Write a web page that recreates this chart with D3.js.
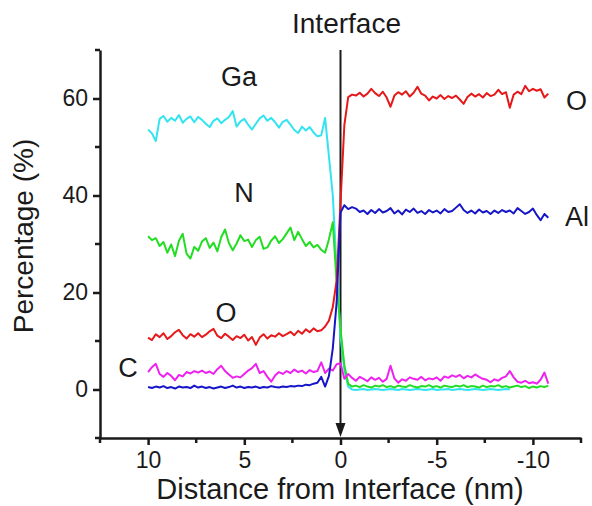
<!DOCTYPE html>
<html>
<head>
<meta charset="utf-8">
<script src="https://cdn.jsdelivr.net/npm/d3@7"></script>
<style>
body { margin: 0; background: #fff; }
text { font-family: "Liberation Sans", Arial, sans-serif; fill: #1a1a1a; }
</style>
</head>
<body>
<svg id="chart"></svg>
<script>
// distance from interface (nm), one sample every 0.2 nm
var distance = [
  10, 9.8, 9.6, 9.4, 9.2, 9, 8.8, 8.6, 8.4, 8.2,
  8, 7.8, 7.6, 7.4, 7.2, 7, 6.8, 6.6, 6.4, 6.2,
  6, 5.8, 5.6, 5.4, 5.2, 5, 4.8, 4.6, 4.4, 4.2,
  4, 3.8, 3.6, 3.4, 3.2, 3, 2.8, 2.6, 2.4, 2.2,
  2, 1.8, 1.6, 1.4, 1.2, 1, 0.8, 0.6, 0.4, 0.2,
  0, -0.2, -0.4, -0.6, -0.8, -1, -1.2, -1.4, -1.6, -1.8,
  -2, -2.2, -2.4, -2.6, -2.8, -3, -3.2, -3.4, -3.6, -3.8,
  -4, -4.2, -4.4, -4.6, -4.8, -5, -5.2, -5.4, -5.6, -5.8,
  -6, -6.2, -6.4, -6.6, -6.8, -7, -7.2, -7.4, -7.6, -7.8,
  -8, -8.2, -8.4, -8.6, -8.8, -9, -9.2, -9.4, -9.6, -9.8,
  -10, -10.2, -10.4, -10.6, -10.8
];

var ga = [
  53.6, 52.8, 51.2, 55.8, 56.4, 55.2, 56.0, 55.4, 56.6, 55.0,
  55.8, 56.3, 55.1, 56.2, 55.6, 54.8, 54.1, 55.4, 55.9, 54.9,
  55.6, 56.2, 57.4, 54.2, 55.3, 55.8, 54.6, 53.6, 54.8, 55.9,
  56.5, 55.4, 56.0, 55.1, 54.0, 55.2, 55.6, 54.6, 53.5, 52.9,
  54.2, 53.4, 54.1, 53.0, 52.2, 52.4, 56.0, 48.0, 40.0, 25.0,
  11.0, 4.0, 0.6, 0.0, -0.1, 0.0, 0.1, -0.1, 0.0, 0.1,
  0.0, -0.1, 0.0, 0.1, 0.0, -0.1, 0.1, 0.0, -0.1, 0.0,
  0.1, 0.0, -0.1, 0.0, 0.1, -0.1, 0.0, 0.0, 0.1, -0.1,
  0.0, 0.1, 0.0, -0.1, 0.0, 0.1, 0.0, -0.1, 0.0, 0.1,
  0.0, -0.1, 0.0, 0.1, 0.0, null, null, null, null, null,
  null, null, null, null, null
];

var n = [
  31.6, 30.8, 31.2, 29.6, 30.4, 28.2, 29.9, 27.5, 30.6, 32.1,
  28.0, 27.0, 29.4, 28.6, 30.5, 31.2, 29.2, 30.3, 28.5, 31.4,
  33.0, 30.2, 28.7, 30.1, 31.8, 30.6, 30.9, 29.4, 30.8, 31.5,
  29.0, 29.3, 30.7, 31.6, 30.2, 31.0, 32.2, 33.4, 30.8, 32.5,
  31.0, 29.6, 30.4, 29.3, 29.8, 28.8, 28.2, 31.0, 34.5, 22.0,
  12.5, 5.0, 1.2, 0.6, 0.8, 0.5, 0.9, 0.6, 0.4, 0.8,
  0.6, 0.9, 0.5, 0.7, 0.4, 0.8, 0.6, 0.5, 0.9, 0.6,
  0.4, 0.7, 0.6, 0.9, 0.5, 0.7, 0.4, 0.8, 0.6, 0.5,
  0.8, 0.6, 0.9, 0.5, 0.7, 0.6, 0.4, 0.8, 0.5, 0.7,
  0.6, 0.9, 0.5, 0.7, 0.4, 0.6, 0.8, 0.5, 0.7, 0.3,
  0.6, 0.4, 0.7, 0.5, 0.8
];

var o = [
  10.7, 10.2, 11.4, 10.8, 11.6, 10.4, 11.0, 11.8, 12.3, 11.2,
  10.5, 11.4, 10.9, 11.6, 10.8, 11.3, 12.0, 12.5, 11.1, 10.6,
  11.5, 10.9, 10.2, 11.0, 10.6, 11.3, 10.1, 10.8, 9.2, 10.7,
  11.4, 10.5, 11.2, 10.9, 11.6, 11.0, 11.4, 11.9, 11.2, 12.1,
  11.5, 12.4, 11.8, 12.6, 12.0, 12.2, 13.0, 14.2, 17.0, 22.5,
  38.5, 54.5, 60.3, 60.8, 60.6, 61.2, 60.4, 61.0, 62.0, 61.1,
  60.5, 61.4, 60.2, 58.3, 60.6, 61.3, 60.8, 61.5, 60.4, 61.2,
  62.4, 61.0, 60.6, 59.6, 60.4, 60.0, 60.7, 59.9, 60.5, 60.1,
  60.6, 59.8, 58.9, 60.3, 61.0, 60.4, 60.9, 60.2, 61.1, 60.5,
  60.8, 61.8, 60.9, 61.3, 58.1, 60.8, 61.4, 60.9, 62.6, 61.5,
  62.0, 61.6, 61.9, 60.2, 61.0
];

var c = [
  3.6, 4.6, 5.3, 3.2, 2.6, 3.4, 2.8, 1.9, 3.0, 2.7,
  3.6, 3.3, 3.8, 3.5, 3.9, 3.4, 3.7, 3.2, 4.2, 4.9,
  3.8, 3.1, 2.4, 2.7, 2.5, 3.2, 3.9, 4.4, 5.3, 3.4,
  3.8, 2.6, 1.6, 2.9, 3.6, 3.2, 3.8, 3.4, 4.1, 3.6,
  3.9, 3.3, 4.0, 3.6, 3.8, 5.6, 3.4, 4.3, 3.9, 5.2,
  5.4, 2.2, 3.2, 2.4, 1.8, 2.6, 2.2, 1.7, 2.5, 2.0,
  2.4, 1.6, 2.2, 4.9, 2.3, 1.4, 2.1, 1.8, 2.5, 2.2,
  2.0, 2.6, 1.9, 2.3, 2.1, 2.5, 1.8, 2.7, 2.4, 2.9,
  2.6, 3.0, 2.3, 2.8, 2.5, 3.1, 2.6, 2.2, 2.0, 1.5,
  2.1, 1.8, 2.4, 2.7, 3.8, 2.5, 1.6, 1.4, 1.8, 1.3,
  1.5, 1.2, 2.0, 3.5, 1.2
];

var al = [
  0.5, 0.3, 0.6, 0.4, 0.7, 0.3, 0.5, 0.2, 0.6, 0.4,
  0.5, 0.3, 0.8, 0.4, 0.6, 0.3, 0.5, 0.2, 0.4, 0.6,
  0.3, 0.5, 0.8, 0.4, 0.6, 0.3, 0.5, 0.4, 0.6, 0.3,
  0.5, 0.4, 0.7, 0.5, 0.4, 0.6, 0.5, 0.7, 0.6, 0.8,
  0.7, 1.0, 0.9, 1.2, 1.4, 2.6, 0.6, 2.8, 8.5, 18.0,
  36.5, 38.0, 37.2, 37.6, 37.3, 36.6, 36.9, 36.2, 37.0, 36.4,
  37.2, 36.5, 36.8, 37.4, 36.3, 36.9, 36.1, 37.1, 36.6, 37.3,
  36.4, 36.8, 36.2, 37.0, 36.5, 36.9, 36.3, 37.2, 36.6, 36.8,
  37.5, 38.2, 37.0, 36.4, 36.9, 36.3, 37.1, 36.5, 36.8, 36.2,
  36.9, 36.4, 37.0, 36.6, 36.9, 36.3, 37.4, 36.8, 36.2, 36.6,
  37.3, 36.0, 34.9, 36.2, 35.4
];

var xTicks = [10, 5, 0, -5, -10];
var xMinor = [12.5, 7.5, 2.5, -2.5, -7.5, -12.5];
var yTicks = [0, 20, 40, 60];
var yMinor = [-10, 10, 30, 50, 70];

var series = [
  {name: "Ga", values: ga, color: "#33e4f0"},
  {name: "N", values: n, color: "#22dd22"},
  {name: "C", values: c, color: "#ee22ee"},
  {name: "O", values: o, color: "#e51919"},
  {name: "Al", values: al, color: "#1616c8"}
];

var labels = [
  {text: "Ga", x: 239, y: 86, anchor: "middle"},
  {text: "N", x: 244, y: 202, anchor: "middle"},
  {text: "O", x: 226, y: 322, anchor: "middle"},
  {text: "C", x: 128, y: 377, anchor: "middle"},
  {text: "O", x: 566, y: 110, anchor: "start"},
  {text: "Al", x: 565, y: 226, anchor: "start"}
];

var width = 592;
var height = 506;

var svg = d3.select("#chart")
  .attr("width", width)
  .attr("height", height);

var x = d3.scaleLinear().domain([12.5, -12.5]).range([100, 581]);
var y = d3.scaleLinear().domain([-10, 70]).range([438, 50]);

// interface marker
svg.append("line")
  .attr("x1", x(0)).attr("x2", x(0))
  .attr("y1", y(70)).attr("y2", y(-10) - 12)
  .attr("stroke", "#1a1a1a")
  .attr("stroke-width", 2);
svg.append("path")
  .attr("d", "M" + (x(0) - 5) + "," + (y(-10) - 15) + "L" + (x(0) + 5) + "," + (y(-10) - 15) + "L" + x(0) + "," + (y(-10) - 1) + "Z")
  .attr("fill", "#1a1a1a");

var line = d3.line()
  .defined(function(d) { return d[1] !== null; })
  .x(function(d) { return x(d[0]); })
  .y(function(d) { return y(d[1]); });

series.forEach(function(s) {
  var pts = distance.map(function(dx, i) { return [dx, s.values[i]]; });
  svg.append("path")
    .datum(pts)
    .attr("d", line)
    .attr("fill", "none")
    .attr("stroke", s.color)
    .attr("stroke-width", 2)
    .attr("stroke-linejoin", "round");
});

// axes, plain hyphen for negatives like the original
var fmt = function(d) { return String(d); };

var xAxis = svg.append("g")
  .attr("transform", "translate(0," + y(-10) + ")")
  .call(d3.axisBottom(x).tickValues(xTicks).tickFormat(fmt).tickSize(7).tickSizeOuter(0).tickPadding(7));
var yAxis = svg.append("g")
  .attr("transform", "translate(" + x(12.5) + ",0)")
  .call(d3.axisLeft(y).tickValues(yTicks).tickFormat(fmt).tickSize(7).tickSizeOuter(0).tickPadding(5));

xAxis.append("g").selectAll("line")
  .data(xMinor).enter().append("line")
  .attr("x1", function(d) { return x(d); }).attr("x2", function(d) { return x(d); })
  .attr("y1", 0).attr("y2", 5);
yAxis.append("g").selectAll("line")
  .data(yMinor).enter().append("line")
  .attr("y1", function(d) { return y(d); }).attr("y2", function(d) { return y(d); })
  .attr("x1", 0).attr("x2", -5);

[xAxis, yAxis].forEach(function(a) {
  a.selectAll("path, line").attr("stroke", "#1a1a1a").attr("stroke-width", 2.5);
  a.selectAll("text")
    .attr("fill", "#1a1a1a")
    .style("font-size", "23px")
    .style("font-family", "'Liberation Sans', Arial, sans-serif");
});

svg.selectAll(".lbl")
  .data(labels).enter().append("text")
  .attr("class", "lbl")
  .attr("x", function(d) { return d.x; })
  .attr("y", function(d) { return d.y; })
  .attr("text-anchor", function(d) { return d.anchor; })
  .style("font-size", "27px")
  .text(function(d) { return d.text; });

svg.append("text")
  .attr("x", 292).attr("y", 33)
  .style("font-size", "28px")
  .text("Interface");

svg.append("text")
  .attr("x", 340).attr("y", 499)
  .attr("text-anchor", "middle")
  .style("font-size", "29px")
  .text("Distance from Interface (nm)");

svg.append("text")
  .attr("transform", "translate(33,236) rotate(-90)")
  .attr("text-anchor", "middle")
  .style("font-size", "28px")
  .text("Percentage (%)");
</script>
</body>
</html>
